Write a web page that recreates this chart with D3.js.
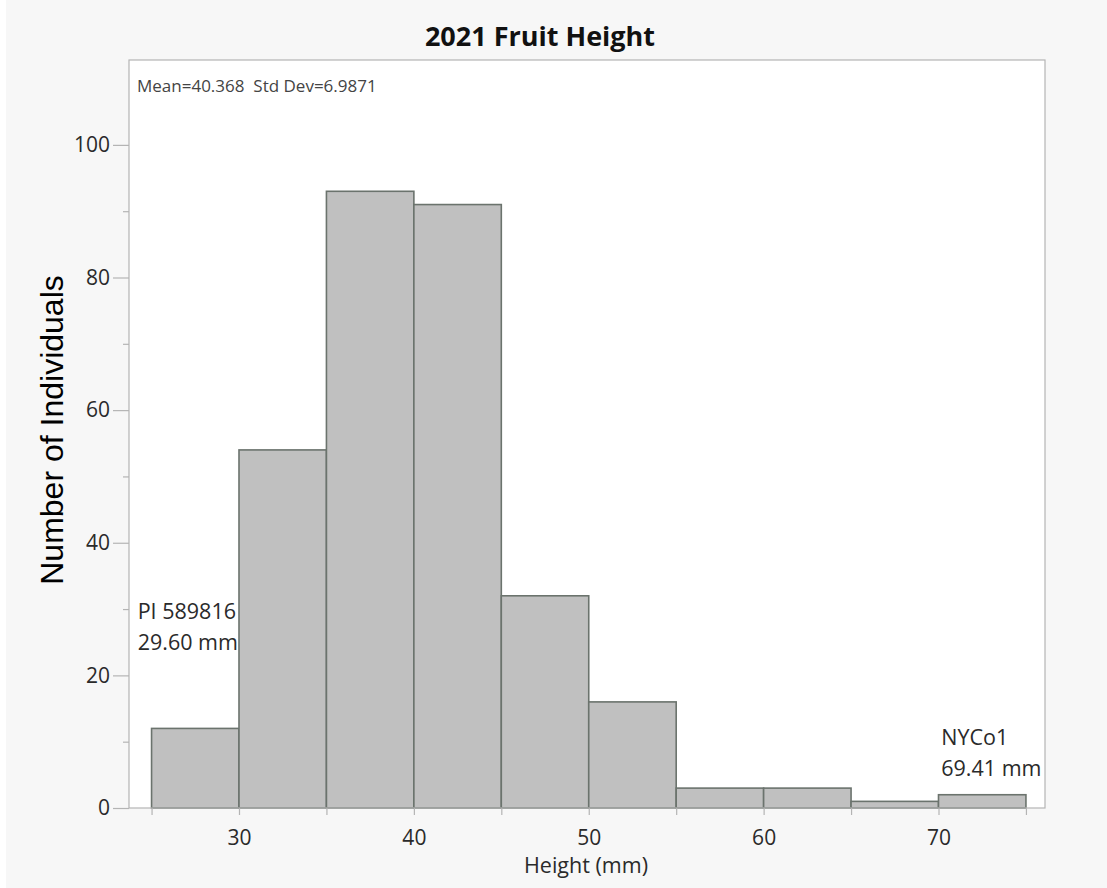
<!DOCTYPE html>
<html>
<head>
<meta charset="utf-8">
<script src="https://cdn.jsdelivr.net/npm/d3@7"></script>
<style>
  body { margin: 0; background: #fff; }
  svg { display: block; }
</style>
</head>
<body>
<svg width="1107" height="888"></svg>
<script>
// bins (mm) and counts
var binStarts = [25, 30, 35, 40, 45, 50, 55, 60, 65, 70];
var binWidth = 5;
var counts = [12, 54, 93, 91, 32, 16, 3, 3, 1, 2];
var xTicks = [30, 40, 50, 60, 70];
var xMinor = [25, 35, 45, 55, 65, 75];
var yTicks = [0, 20, 40, 60, 80, 100];
var yMinor = [10, 30, 50, 70, 90];
var notes = [
	{ x: 23.75, y: 28.5, dx: 8, lines: ["PI 589816", "29.60 mm"] },
	{ x: 70.1, y: 9.5, dx: 1, lines: ["NYCo1", "69.41 mm"] }
];

var svg = d3.select("svg"),
	margin = { top: 60, right: 62, bottom: 80, left: 129 },
	width = +svg.attr("width") - margin.left - margin.right,
	height = +svg.attr("height") - margin.top - margin.bottom;

var font = "'Open Sans', 'Noto Sans', sans-serif";

svg.append("rect").attr("x", 6).attr("y", 0).attr("width", 1101).attr("height", 888).attr("fill", "#f7f7f7");

var g = svg.append("g").attr("transform", "translate(" + margin.left + "," + margin.top + ")");

var x = d3.scaleLinear().domain([23.71, 76.09]).range([0, width]);
var y = d3.scaleLinear().domain([0, 112.8]).range([height, 0]);

// plot area
g.append("rect").attr("width", width).attr("height", height).attr("fill", "#fff");

// bars
g.selectAll(".bar")
	.data(counts)
	.enter()
	.append("rect")
	.attr("x", function (d, i) { return x(binStarts[i]) })
	.attr("y", function (d) { return y(d) })
	.attr("width", function (d, i) { return x(binStarts[i] + binWidth) - x(binStarts[i]) })
	.attr("height", function (d) { return height - y(d) })
	.attr("fill", "#c0c0c0")
	.attr("stroke", "#6b736d")
	.attr("stroke-width", 1.6);

// frame
g.append("rect").attr("width", width).attr("height", height)
	.attr("fill", "none").attr("stroke", "#b4b4b4").attr("stroke-width", 1.2);

// x axis
var xAxis = g.append("g")
	.attr("transform", "translate(0," + height + ")")
	.call(d3.axisBottom(x).tickValues(xTicks).tickFormat(d3.format("d")).tickSize(7).tickPadding(15));
var xAxisMinor = g.append("g")
	.attr("transform", "translate(0," + height + ")")
	.call(d3.axisBottom(x).tickValues(xMinor).tickFormat("").tickSize(7));

// y axis
var yAxis = g.append("g")
	.call(d3.axisLeft(y).tickValues(yTicks).tickFormat(d3.format("d")).tickSize(16).tickPadding(3));
var yAxisMinor = g.append("g")
	.call(d3.axisLeft(y).tickValues(yMinor).tickFormat("").tickSize(6));

[xAxis, xAxisMinor, yAxis, yAxisMinor].forEach(function (a) {
	a.select(".domain").remove();
	a.selectAll("line").attr("stroke", "#b4b4b4").attr("stroke-width", 1.2);
	a.selectAll("text").attr("font-family", font).attr("font-size", "21px").attr("fill", "#2a2a2a");
});

// stats label
g.append("text").attr("x", 8).attr("y", 32)
	.text("Mean=40.368  Std Dev=6.9871")
	.attr("font-family", font).attr("font-size", "17px").attr("fill", "#444")
	.style("white-space", "pre");

// annotations
notes.forEach(function (n) {
	var t = g.append("text")
		.attr("y", y(n.y))
		.attr("font-family", font).attr("font-size", "21.5px").attr("fill", "#2a2a2a");
	n.lines.forEach(function (l, i) {
		t.append("tspan").attr("x", x(n.x) + n.dx).attr("dy", i ? 31 : 0).text(l);
	});
});

// title
svg.append("text")
	.attr("x", 540).attr("y", 46)
	.attr("text-anchor", "middle")
	.attr("font-family", font).attr("font-weight", "bold").attr("font-size", "27px")
	.attr("fill", "#111")
	.text("2021 Fruit Height");

// axis titles
svg.append("text")
	.attr("x", 586).attr("y", 873)
	.attr("text-anchor", "middle")
	.attr("font-family", font).attr("font-size", "21.5px").attr("fill", "#2a2a2a")
	.text("Height (mm)");

svg.append("text")
	.attr("transform", "translate(63,430) rotate(-90)")
	.attr("text-anchor", "middle")
	.attr("font-family", "'Liberation Sans', Arial, sans-serif").attr("font-size", "32px").attr("fill", "#000")
	.text("Number of Individuals");
</script>
</body>
</html>
